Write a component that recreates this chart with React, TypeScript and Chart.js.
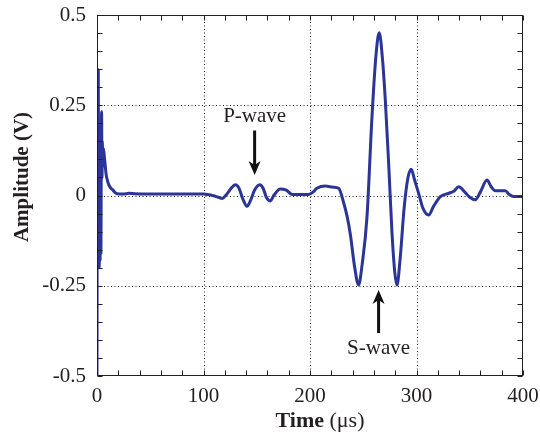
import React, { useEffect, useRef } from "react";
import { Chart, registerables } from "chart.js";

Chart.register(...registerables);

// ---- data ----
const timeUs: number[] = [
  0, 0.3, 0.6, 0.9, 1.2, 1.5, 1.8, 2.1, 2.5, 2.9, 3.3, 3.7, 4.0, 4.3, 4.7, 5.0, 5.5, 6.0, 6.9, 7.5, 8.5, 9.5,
  11, 13, 15, 17, 19, 25, 30, 35, 45, 60, 80, 100, 111, 117.4, 122, 126, 129.9, 133, 137, 140.8, 144, 148,
  152.7, 156, 159, 162.7, 166, 172, 177.7, 183, 198.7, 203, 206.5, 214.4, 222, 226.9, 231.6, 235, 238, 242,
  245.6, 249, 253.5, 258.2, 262, 265, 268, 270.7, 274, 277, 279.5, 281.7, 284.5, 288.5, 292, 295.1, 298, 302,
  306, 311.4, 316, 322.4, 330.2, 335, 339.6, 345.8, 350, 355.2, 360, 366.2, 370, 374, 383.4, 387, 391.2, 400,
];
const amplitudeV: number[] = [
  -0.5, 0.2, -0.2, 0.3, 0.348, -0.1, 0.15, -0.2, 0.1, -0.18, 0.15, -0.16, 0.1, 0.232, 0.05, 0.15, 0.08, 0.13,
  0.107, 0.09, 0.06, 0.045, 0.03, 0.02, 0.015, 0.008, 0.005, 0.004, 0.006, 0.005, 0.004, 0.004, 0.004, 0.004,
  -0.002, -0.008, 0.004, 0.02, 0.03, 0.022, -0.01, -0.03, -0.015, 0.015, 0.03, 0.02, -0.005, -0.015, 0.0,
  0.018, 0.015, 0.003, 0.003, 0.01, 0.02, 0.026, 0.023, 0.02, -0.02, -0.06, -0.11, -0.2, -0.248, -0.19, -0.06,
  0.218, 0.39, 0.451, 0.38, 0.265, 0.08, -0.104, -0.21, -0.248, -0.18, -0.031, 0.05, 0.073, 0.045, 0.006,
  -0.035, -0.054, -0.03, -0.003, 0.006, 0.012, 0.024, 0.008, -0.005, -0.012, 0.01, 0.043, 0.025, 0.013, 0.013,
  0.003, -0.003, -0.003,
];

const xTickValues: number[] = [0, 100, 200, 300, 400];
const yTickLabels: string[] = ["-0.5", "-0.25", "0", "0.25", "0.5"];

// annotations: label, time, text level, arrow tail, arrow tip
const annotLabels: string[] = ["P-wave", "S-wave"];
const annotTime: number[] = [148, 264.4];
const annotTextY: number[] = [0.22, -0.425];
const annotArrowFrom: number[] = [0.18, -0.381];
const annotArrowTo: number[] = [0.057, -0.262];

const SERIF = '"Liberation Serif", "Times New Roman", serif';
const INK = "#231f20";
const LINE = "#2a3596";

const framePlugin = {
  id: "frame",
  beforeDatasetsDraw(chart: any) {
    const { ctx, chartArea: a, scales } = chart;
    const xs = scales.x;
    const ys = scales.y;
    ctx.save();
    ctx.strokeStyle = INK;
    ctx.lineWidth = 1;
    ctx.setLineDash([1, 2.5]);
    for (const v of [100, 200, 300]) {
      const px = Math.round(xs.getPixelForValue(v)) + 0.5;
      ctx.beginPath();
      ctx.moveTo(px, a.top);
      ctx.lineTo(px, a.bottom);
      ctx.stroke();
    }
    for (const v of [-0.25, 0, 0.25]) {
      const py = Math.round(ys.getPixelForValue(v)) + 0.5;
      ctx.beginPath();
      ctx.moveTo(a.left, py);
      ctx.lineTo(a.right, py);
      ctx.stroke();
    }
    ctx.restore();
  },
  afterDatasetsDraw(chart: any) {
    const { ctx, chartArea: a, scales } = chart;
    const xs = scales.x;
    const ys = scales.y;
    ctx.save();
    ctx.strokeStyle = INK;
    ctx.lineWidth = 1;
    ctx.setLineDash([]);
    const L = Math.round(a.left) + 0.5;
    const R = Math.round(a.right) - 0.5;
    const T = Math.round(a.top) + 0.5;
    const B = Math.round(a.bottom) - 0.5;
    ctx.strokeRect(L, T, R - L, B - T);
    const tl = 5;
    ctx.beginPath();
    for (let i = 0; i <= 20; i++) {
      const v = i * 20;
      const px = Math.round(xs.getPixelForValue(v)) + 0.5;
      ctx.moveTo(px, B);
      ctx.lineTo(px, B - tl);
      ctx.moveTo(px, T);
      ctx.lineTo(px, T + tl);
    }
    for (let i = 0; i <= 20; i++) {
      const v = -0.5 + i * 0.05;
      const py = Math.round(ys.getPixelForValue(v)) + 0.5;
      ctx.moveTo(L, py);
      ctx.lineTo(L + tl, py);
      ctx.moveTo(R, py);
      ctx.lineTo(R - tl, py);
    }
    ctx.stroke();

    // annotations
    ctx.fillStyle = INK;
    ctx.strokeStyle = "#111";
    ctx.font = `21px ${SERIF}`;
    ctx.textAlign = "center";
    ctx.textBaseline = "middle";
    for (let i = 0; i < annotLabels.length; i++) {
      const px = xs.getPixelForValue(annotTime[i]);
      ctx.fillText(annotLabels[i], px, ys.getPixelForValue(annotTextY[i]));
      const y0 = ys.getPixelForValue(annotArrowFrom[i]);
      const y1 = ys.getPixelForValue(annotArrowTo[i]);
      const dir = y1 > y0 ? 1 : -1;
      const head = 14;
      ctx.lineWidth = 3;
      ctx.beginPath();
      ctx.moveTo(px, y0);
      ctx.lineTo(px, y1 - dir * head * 0.6);
      ctx.stroke();
      ctx.beginPath();
      ctx.moveTo(px, y1);
      ctx.lineTo(px - 6, y1 - dir * head);
      ctx.lineTo(px, y1 - dir * head * 0.7);
      ctx.lineTo(px + 6, y1 - dir * head);
      ctx.closePath();
      ctx.fillStyle = "#111";
      ctx.fill();
      ctx.fillStyle = INK;
    }

    // axis titles
    ctx.fillStyle = INK;
    ctx.textBaseline = "middle";
    ctx.save();
    ctx.translate(23, 177);
    ctx.rotate(-Math.PI / 2);
    ctx.font = `bold 21px ${SERIF}`;
    ctx.textAlign = "center";
    ctx.fillText("Amplitude (V)", 0, 0);
    ctx.restore();
    const boldFont = `bold 22px ${SERIF}`;
    const normFont = `22px ${SERIF}`;
    const p1 = "Time";
    const p2 = " (\u03bcs)";
    ctx.font = boldFont;
    const w1 = ctx.measureText(p1).width;
    ctx.font = normFont;
    const w2 = ctx.measureText(p2).width;
    const cx = 320;
    const ty = 421;
    const x0 = cx - (w1 + w2) / 2;
    ctx.textAlign = "left";
    ctx.font = boldFont;
    ctx.fillText(p1, x0, ty);
    ctx.font = normFont;
    ctx.fillText(p2, x0 + w1, ty);
    ctx.restore();
  },
};

export default function App() {
  const ref = useRef<HTMLCanvasElement | null>(null);
  useEffect(() => {
    if (!ref.current) return;
    const points = timeUs.map((t, i) => ({ x: t, y: amplitudeV[i] }));
    const chart = new Chart(ref.current, {
      type: "line",
      data: {
        datasets: [
          {
            data: points,
            borderColor: LINE,
            borderWidth: 3,
            pointRadius: 0,
            fill: false,
            cubicInterpolationMode: "monotone",
            borderJoinStyle: "round",
          },
        ],
      },
      options: {
        animation: false,
        responsive: false,
        maintainAspectRatio: false,
        layout: { padding: { top: 15, right: 17, left: 0, bottom: 0 } },
        plugins: { legend: { display: false }, tooltip: { enabled: false }, title: { display: false } },
        scales: {
          x: {
            type: "linear",
            min: 0,
            max: 400,
            afterFit: (s: any) => {
              s.height = 61;
              s.paddingLeft = 0;
              s.paddingRight = 0;
            },
            afterBuildTicks: (s: any) => {
              s.ticks = xTickValues.map((v) => ({ value: v }));
            },
            grid: { display: false, drawTicks: false },
            border: { display: false },
            ticks: {
              padding: 8,
              color: INK,
              font: { family: SERIF, size: 21 },
              maxRotation: 0,
              autoSkip: false,
              callback: (v: any) => String(v),
            },
          },
          y: {
            type: "linear",
            min: -0.5,
            max: 0.5,
            afterFit: (s: any) => {
              s.width = 97;
              s.paddingTop = 0;
              s.paddingBottom = 0;
            },
            afterBuildTicks: (s: any) => {
              s.ticks = yTickLabels.map((l) => ({ value: parseFloat(l) }));
            },
            grid: { display: false, drawTicks: false },
            border: { display: false },
            ticks: {
              padding: 11,
              color: INK,
              font: { family: SERIF, size: 21 },
              autoSkip: false,
              callback: (v: any) => {
                const idx = yTickLabels.findIndex((l) => Math.abs(parseFloat(l) - v) < 1e-6);
                return idx >= 0 ? yTickLabels[idx] : "";
              },
            },
          },
        },
      },
      plugins: [framePlugin],
    });
    return () => chart.destroy();
  }, []);
  return (
    <div style={{ position: "fixed", left: 0, top: 0, width: 540, height: 437, background: "#fff" }}>
      <canvas ref={ref} width={540} height={437} style={{ display: "block" }} />
    </div>
  );
}
